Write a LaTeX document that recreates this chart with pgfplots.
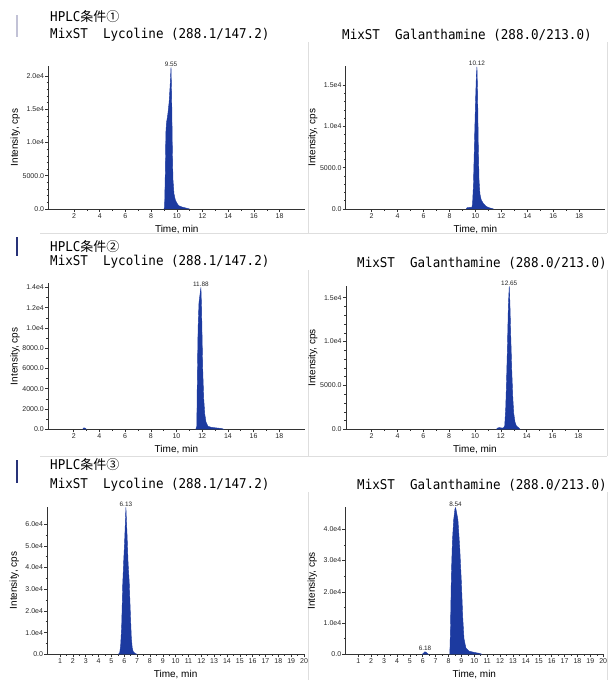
\documentclass[border=0pt]{standalone}
\usepackage{fontspec}
\setmainfont{Liberation Sans}
\newfontfamily\monofont[FakeStretch=0.93]{DejaVu Sans Mono}
\newfontfamily\cjk{Noto Sans CJK JP}
\usepackage{pgfplots}
\pgfplotsset{compat=1.18}
\definecolor{peak}{RGB}{28,58,160}
\definecolor{framegray}{RGB}{222,222,222}
\definecolor{barnavy}{RGB}{40,50,120}

\newcommand\ttl[1]{{\monofont\fontsize{13.5}{14}\selectfont #1}}
\newcommand\cnd[1]{{\cjk\fontsize{13}{14}\selectfont #1}}

\tikzset{pklab/.style={font=\fontsize{6.4}{7}\selectfont, text=black!85, anchor=south, inner sep=1pt}}

\pgfplotsset{
  chrom/.style={
    scale only axis, anchor=south west,
    xmin=0, xmax=20, ymin=0,
    scaled y ticks=false, scaled x ticks=false,
    axis lines=left, axis line style={-, black!80, line width=0.6pt},
    tick align=outside, major tick length=3pt, minor tick length=1.6pt,
    tick style={black!80, line width=0.5pt},
    tick label style={font=\fontsize{7}{8}\selectfont, text=black!85},
    /pgf/number format/assume math mode=true,
    xticklabel style={inner sep=1.2pt},
    yticklabel style={inner sep=1pt},
    ylabel={Intensity, cps},
    xlabel={Time, min},
    ylabel style={font=\fontsize{8.4}{9}\selectfont, text=black!85},
    xlabel style={font=\fontsize{6.6}{7}\selectfont\bfseries, text=black!85},
    every axis y label/.style={at={([xshift=-33pt]axis description cs:0,0.5)}, rotate=90, anchor=center},
    every axis x label/.style={at={([yshift=-20.5pt]axis description cs:0.5,0)}, anchor=center},
    clip=false,
  },
  top4/.style={xtick={2,4,...,18}, minor x tick num=1},
  bot2/.style={xtick={1,...,20}, minor x tick num=1},
  pk/.style={fill=peak, draw=peak, line width=0.4pt},
}

\begin{document}
\begin{tikzpicture}
\useasboundingbox (0,0) rectangle (611pt,-680pt);

% faint panel frames
\draw[framegray, line width=0.6pt] (308pt,-42pt) -- (308pt,-233pt) (607pt,-42pt) -- (607pt,-233pt) (40pt,-233pt) -- (607pt,-233pt);
\draw[framegray, line width=0.6pt] (308pt,-270pt) -- (308pt,-456pt) (607pt,-270pt) -- (607pt,-456pt) (40pt,-456pt) -- (607pt,-456pt);
\draw[framegray, line width=0.6pt] (308pt,-492pt) -- (308pt,-680pt) (607pt,-492pt) -- (607pt,-680pt);

% left marker bars
\draw[blue!20!gray!40, line width=1.4pt] (17pt,-15pt) -- (17pt,-37pt);
\draw[barnavy, line width=1.4pt] (17pt,-237pt) -- (17pt,-256pt);
\draw[barnavy, line width=1.4pt] (17pt,-460pt) -- (17pt,-483pt);

% titles
\node[anchor=west, inner sep=0] at (50pt,-17pt) {\ttl{HPLC}\cnd{条件①}};
\node[anchor=west, inner sep=0] at (50pt,-35pt) {\ttl{MixST\ \ Lycoline (288.1/147.2)}};
\node[anchor=west, inner sep=0] at (342pt,-35pt) {\ttl{MixST\ \ Galanthamine (288.0/213.0)}};
\node[anchor=west, inner sep=0] at (50pt,-247pt) {\ttl{HPLC}\cnd{条件②}};
\node[anchor=west, inner sep=0] at (50pt,-262pt) {\ttl{MixST\ \ Lycoline (288.1/147.2)}};
\node[anchor=west, inner sep=0] at (357pt,-263pt) {\ttl{MixST\ \ Galanthamine (288.0/213.0)}};
\node[anchor=west, inner sep=0] at (50pt,-465pt) {\ttl{HPLC}\cnd{条件③}};
\node[anchor=west, inner sep=0] at (50pt,-485pt) {\ttl{MixST\ \ Lycoline (288.1/147.2)}};
\node[anchor=west, inner sep=0] at (357pt,-485pt) {\ttl{MixST\ \ Galanthamine (288.0/213.0)}};

% condition 1, Lycoline
\begin{axis}[chrom, top4, at={(48.3pt,-209pt)}, width=257pt, height=143pt,
  ymax=21500, ytick={0,5000,10000,15000,20000},
  yticklabels={0.0,5000.0,1.0e4,1.5e4,2.0e4}, minor y tick num=4]
\addplot[pk] coordinates {(9.0,0) (9.05,300) (9.1,5000) (9.15,11500) (9.2,13000) (9.3,14200)
  (9.4,16000) (9.48,18500) (9.55,21300) (9.6,17000) (9.65,9500) (9.7,4500) (9.78,2300)
  (9.88,1400) (10.0,900) (10.15,500) (10.4,300) (10.7,150) (10.9,50) (11.0,0)};
\node[pklab] at (axis cs:9.55,21300) {9.55};
\end{axis}

% condition 1, Galanthamine
\begin{axis}[chrom, top4, at={(345.7pt,-209pt)}, width=259.4pt, height=142.6pt,
  ymax=17250, ytick={0,5000,10000,15000},
  yticklabels={0.0,5000.0,1.0e4,1.5e4}, minor y tick num=4]
\addplot[pk] coordinates {(9.3,0) (9.35,150) (9.6,200) (9.72,150) (9.78,600) (9.85,3000)
  (9.92,7500) (10.0,12500) (10.07,16000) (10.12,17200) (10.17,14000) (10.22,8000)
  (10.28,3500) (10.35,1800) (10.45,1100) (10.6,700) (10.8,350) (11.0,180) (11.3,50) (11.4,0)};
\node[pklab] at (axis cs:10.12,17200) {10.12};
\end{axis}

% condition 2, Lycoline
\begin{axis}[chrom, top4, at={(48pt,-429.3pt)}, width=257pt, height=146pt,
  ymax=14400, ytick={0,2000,4000,6000,8000,10000,12000,14000},
  yticklabels={0.0,2000.0,4000.0,6000.0,8000.0,1.0e4,1.2e4,1.4e4}, minor y tick num=1]
\addplot[pk] coordinates {(2.7,0) (2.78,150) (2.88,120) (3.0,0)};
\addplot[pk] coordinates {(11.5,0) (11.58,300) (11.62,5000) (11.68,10000) (11.75,12500)
  (11.85,13500) (11.9,14000) (11.95,12000) (12.0,8500) (12.05,5500) (12.12,3000) (12.2,1500)
  (12.3,700) (12.45,300) (12.7,200) (13.0,150) (13.5,80) (13.7,0)};
\node[pklab] at (axis cs:11.9,14000) {11.88};
\end{axis}

% condition 2, Galanthamine
\begin{axis}[chrom, top4, at={(345.8pt,-429.3pt)}, width=258.4pt, height=143pt,
  ymax=16300, ytick={0,5000,10000,15000},
  yticklabels={0.0,5000.0,1.0e4,1.5e4}, minor y tick num=4]
\addplot[pk] coordinates {(11.65,0) (11.75,150) (11.9,200) (12.05,150) (12.2,150) (12.3,400)
  (12.38,2500) (12.45,6000) (12.52,10000) (12.58,14000) (12.65,16300) (12.7,14500)
  (12.77,10500) (12.85,6500) (12.93,3500) (13.0,1800) (13.1,800) (13.2,400) (13.35,200) (13.5,0)};
\node[pklab] at (axis cs:12.65,16300) {12.65};
\end{axis}

% condition 3, Lycoline
\begin{axis}[chrom, bot2, at={(47.2pt,-654.3pt)}, width=256.8pt, height=147.6pt,
  ymax=68000, ytick={0,10000,20000,30000,40000,50000,60000},
  yticklabels={0.0,1.0e4,2.0e4,3.0e4,4.0e4,5.0e4,6.0e4}, minor y tick num=1]
\addplot[pk] coordinates {(5.55,0) (5.65,800) (5.72,4000) (5.8,13000) (5.88,32000)
  (5.95,42000) (6.03,52000) (6.1,63000) (6.13,67700) (6.17,62000) (6.22,55000) (6.3,42000)
  (6.39,33000) (6.47,20000) (6.55,8000) (6.62,3000) (6.7,1200) (6.85,400) (7.0,0)};
\node[pklab] at (axis cs:6.13,67700) {6.13};
\end{axis}

% condition 3, Galanthamine
\begin{axis}[chrom, bot2, at={(345.4pt,-654.3pt)}, width=257.8pt, height=147pt,
  ymax=47000, ytick={0,10000,20000,30000,40000},
  yticklabels={0.0,1.0e4,2.0e4,3.0e4,4.0e4}, minor y tick num=1]
\addplot[pk] coordinates {(5.95,0) (6.05,300) (6.15,800) (6.25,700) (6.35,300) (6.45,0)};
\addplot[pk] coordinates {(8.1,0) (8.15,8000) (8.22,25000) (8.3,36000) (8.4,43000)
  (8.5,46500) (8.55,46900) (8.62,45500) (8.73,43000) (8.87,34000) (9.0,22800) (9.1,12000)
  (9.2,5000) (9.35,2000) (9.6,1000) (10.0,600) (10.4,300) (10.6,0)};
\node[pklab] at (axis cs:6.18,800) {6.18};
\node[pklab] at (axis cs:8.54,46900) {8.54};
\end{axis}
\end{tikzpicture}
\end{document}
